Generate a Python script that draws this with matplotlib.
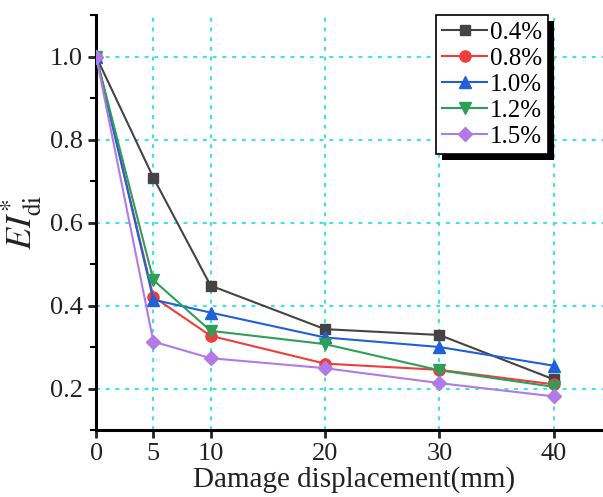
import matplotlib
matplotlib.use("Agg")
import matplotlib.pyplot as plt
from matplotlib.patches import Rectangle
from matplotlib.ticker import MultipleLocator

# data
displacement = [0, 5, 10, 20, 30, 40]
labels = ["0.4%", "0.8%", "1.0%", "1.2%", "1.5%"]
ei_04 = [1.0, 0.708, 0.448, 0.343, 0.329, 0.222]
ei_08 = [1.0, 0.421, 0.327, 0.260, 0.245, 0.210]
ei_10 = [1.0, 0.414, 0.383, 0.323, 0.300, 0.255]
ei_12 = [1.0, 0.461, 0.339, 0.307, 0.244, 0.204]
ei_15 = [1.0, 0.313, 0.273, 0.249, 0.213, 0.181]
x_ticks = [0, 5, 10, 20, 30, 40]
y_ticks = [0.2, 0.4, 0.6, 0.8, 1.0]

series = [ei_04, ei_08, ei_10, ei_12, ei_15]
colors = ["#444444", "#f03c3c", "#2060d8", "#2e9e58", "#b27ae6"]
markers = ["s", "o", "^", "v", "D"]
msizes = [7, 8, 8, 8, 7]

plt.rcParams["font.family"] = "Liberation Serif"
plt.rcParams["mathtext.fontset"] = "stix"

fig = plt.figure(figsize=(6.03, 4.97), dpi=100)
ax = fig.add_axes([0.1595, 0.1348, 0.8537, 0.835])

for vals, lab, c, m, ms in zip(series, labels, colors, markers, msizes):
    ax.plot(displacement, vals, color=c, marker=m, markersize=ms, linewidth=1.5,
            label=lab, zorder=3)

ax.set_xlim(0, 45)
ax.set_ylim(0.1, 1.1)
ax.set_xticks(x_ticks)
ax.set_yticks(y_ticks)
ax.yaxis.set_minor_locator(MultipleLocator(0.1))
ax.grid(True, color="#33e6e6", linestyle=(0, (2, 3)), linewidth=1.4)
ax.set_axisbelow(True)

for s in ["top", "right"]:
    ax.spines[s].set_visible(False)
for s in ["left", "bottom"]:
    ax.spines[s].set_linewidth(2.2)
ax.tick_params(which="major", direction="out", length=6, width=2, labelsize=19,
               colors="#222222")
ax.tick_params(which="minor", direction="out", length=4, width=1.5)
ax.tick_params(axis="x", pad=3)

ax.set_xlabel("Damage displacement(mm)", fontsize=21, labelpad=1, color="#222222")
ax.set_ylabel(r"$EI^{*}_{\rm di}$", fontsize=26, labelpad=4, color="#222222")

leg = ax.legend(loc="upper left", bbox_to_anchor=(436 / 603, 1 - 15 / 497),
                bbox_transform=fig.transFigure, fontsize=18, frameon=True,
                fancybox=False, edgecolor="black", framealpha=1,
                handlelength=1.8, handletextpad=0.1, labelspacing=0.14,
                borderpad=0.25, borderaxespad=0)
leg.get_frame().set_linewidth(1.2)
leg.set_zorder(5)

# black drop shadow behind the legend box
fig.canvas.draw()
bb = leg.get_window_extent().transformed(fig.transFigure.inverted())
ax.add_patch(Rectangle((bb.x0 + 6 / 603, bb.y0 - 6 / 497), bb.width, bb.height,
                       transform=fig.transFigure, facecolor="black",
                       edgecolor="none", zorder=4, clip_on=False))

fig.savefig("out.png", dpi=100)
